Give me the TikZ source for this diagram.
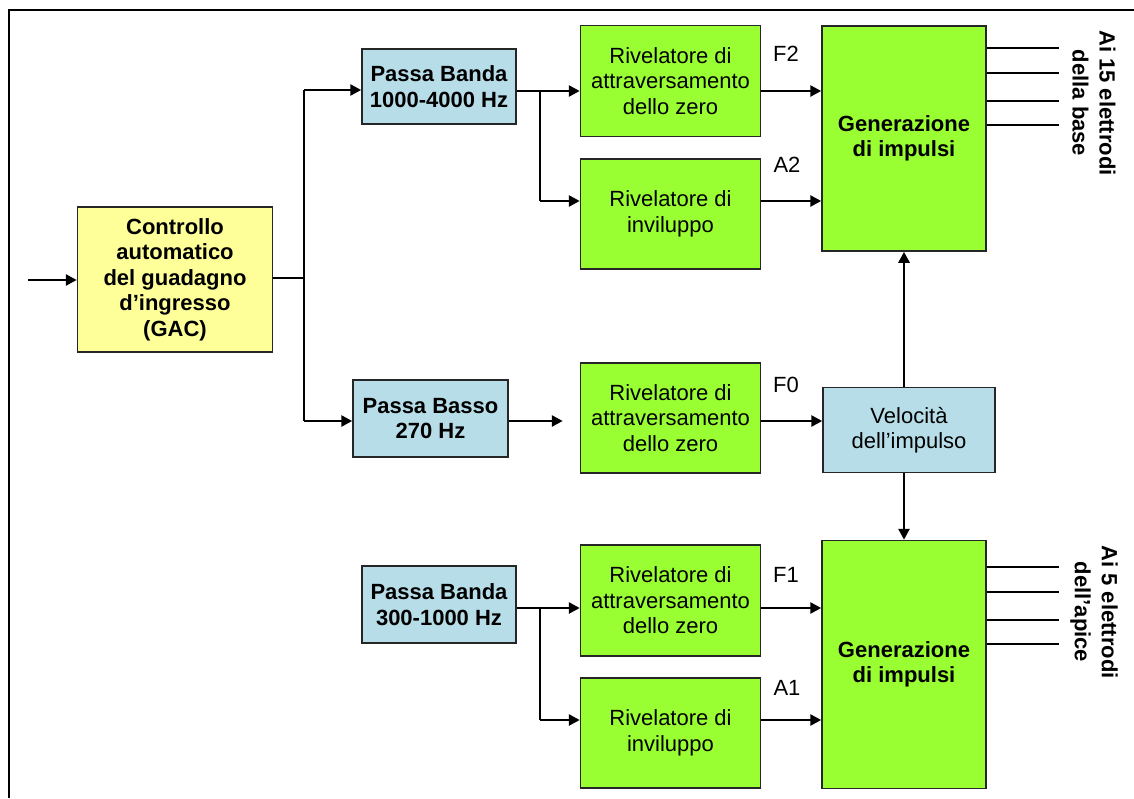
\documentclass[tikz,border=0pt]{standalone}
\usepackage{fontspec}
\setmainfont{Liberation Sans}
\usetikzlibrary{arrows.meta}

\definecolor{gacyellow}{RGB}{255,255,153}
\definecolor{filterblue}{RGB}{183,222,232}
\definecolor{blockgreen}{RGB}{153,255,51}

\begin{document}
\begin{tikzpicture}[x=1pt,y=-1pt,
  blk/.style={draw=black!85, line width=1.5pt, align=center, inner sep=0pt,
    font=\fontsize{22}{25.5}\selectfont},
  bfont/.style={font=\fontsize{22}{25.5}\selectfont\bfseries},
  gacbox/.style={blk, bfont, fill=gacyellow},
  filt/.style={blk, bfont, fill=filterblue},
  det/.style={blk, fill=blockgreen, minimum width=180pt},
  gen/.style={blk, bfont, fill=blockgreen, minimum width=164pt},
  sig/.style={line width=2.6pt, -{Triangle[length=11pt,width=11pt]}},
  wire/.style={line width=1.6pt},
  lbl/.style={font=\fontsize{22}{25}\selectfont, inner sep=0pt},
  outlbl/.style={font=\fontsize{22}{27}\selectfont\bfseries, align=center,
    rotate=-90, inner sep=0pt}
]
\useasboundingbox (0,0) rectangle (1134,798);

% outer frame (left and top edges)
\draw[line width=1.8pt] (9,798) -- (9,10) -- (1134,10);

% blocks
\node[gacbox, minimum width=195pt, minimum height=145pt] (gac) at (175,279.5)
  {Controllo\\automatico\\del guadagno\\d’ingresso\\(GAC)};
\node[filt, minimum width=154pt, minimum height=75pt] (pbA) at (439,86.5)
  {Passa Banda\\1000-4000 Hz};
\node[filt, minimum width=155pt, minimum height=77pt] (pbL) at (430.5,418.5)
  {Passa Basso\\270 Hz};
\node[filt, minimum width=154pt, minimum height=77pt] (pbB) at (439,604.5)
  {Passa Banda\\300-1000 Hz};

\node[det, minimum height=111pt] (raA) at (670.5,81)
  {Rivelatore di\\attraversamento\\dello zero};
\node[det, minimum height=110pt] (riA) at (670.5,214)
  {Rivelatore di\\inviluppo};
\node[det, minimum height=110pt] (raM) at (670.5,418)
  {Rivelatore di\\attraversamento\\dello zero};
\node[det, minimum height=111pt] (raB) at (670.5,600.5)
  {Rivelatore di\\attraversamento\\dello zero};
\node[det, minimum height=110pt] (riB) at (670.5,733)
  {Rivelatore di\\inviluppo};

\node[gen, minimum height=225pt] (genA) at (904,138.5)
  {Generazione\\di impulsi};
\node[gen, minimum height=248pt] (genB) at (904,664.5)
  {Generazione\\di impulsi};
\node[blk, fill=filterblue, minimum width=172pt, minimum height=85pt] (vel) at (909,430)
  {Velocità\\dell’impulso};

% signal labels
\node[lbl] (lF2) at (786,54) {F2};
\node[lbl] (lA2) at (787,165) {A2};
\node[lbl] (lF0) at (786,385) {F0};
\node[lbl] (lF1) at (786,575) {F1};
\node[lbl] (lA1) at (787,688) {A1};

% output labels
\node[outlbl] (outA) at (1094,103) {Ai 15 elettrodi\\della base};
\node[outlbl] (outB) at (1094,612) {Ai 5 elettrodi\\dell’apice};

% routing levels
\coordinate (in) at (28,280);
\coordinate (yG) at (0,278);
\coordinate (jx) at (304,0);
\coordinate (yT) at (0,90);
\coordinate (yL) at (0,421);
\coordinate (y1) at (0,91);
\coordinate (y2) at (0,201);
\coordinate (y3) at (0,608);
\coordinate (y4) at (0,720);
\coordinate (bx) at (540,0);
\coordinate (vx) at (904,0);
\coordinate (ox) at (1059,0);

% input
\draw[sig] (in) -- (in -| gac.west);

% splitter after GAC
\draw[wire] (gac.east |- yG) -- (jx |- yG);
\draw[wire] (jx |- yT) -- (jx |- yL);
\draw[sig] (jx |- yT) -- (pbA.west |- yT);
\draw[sig] (jx |- yL) -- (pbL.west |- yL);

% upper band
\draw[sig] (pbA.east |- y1) -- (raA.west |- y1);
\draw[wire] (bx |- y1) -- (bx |- y2);
\draw[sig] (bx |- y2) -- (riA.west |- y2);
\draw[sig] (raA.east |- y1) -- (genA.west |- y1);
\draw[sig] (riA.east |- y2) -- (genA.west |- y2);

% low-pass branch
\draw[sig, shorten >=17pt] (pbL.east |- yL) -- (raM.west |- yL);
\draw[sig] (raM.east |- yL) -- (vel.west |- yL);
\draw[sig] (vx |- vel.north) -- (vx |- genA.south);
\draw[sig] (vx |- vel.south) -- (vx |- genB.north);

% lower band
\draw[sig] (pbB.east |- y3) -- (raB.west |- y3);
\draw[wire] (bx |- y3) -- (bx |- y4);
\draw[sig] (bx |- y4) -- (riB.west |- y4);
\draw[sig] (raB.east |- y3) -- (genB.west |- y3);
\draw[sig] (riB.east |- y4) -- (genB.west |- y4);

% electrode outputs
\foreach \yy in {48,73,101,125}
  \draw[wire] (genA.east |- 0,\yy) -- (ox |- 0,\yy);
\foreach \yy in {567,592,620,644}
  \draw[wire] (genB.east |- 0,\yy) -- (ox |- 0,\yy);
\end{tikzpicture}
\end{document}
